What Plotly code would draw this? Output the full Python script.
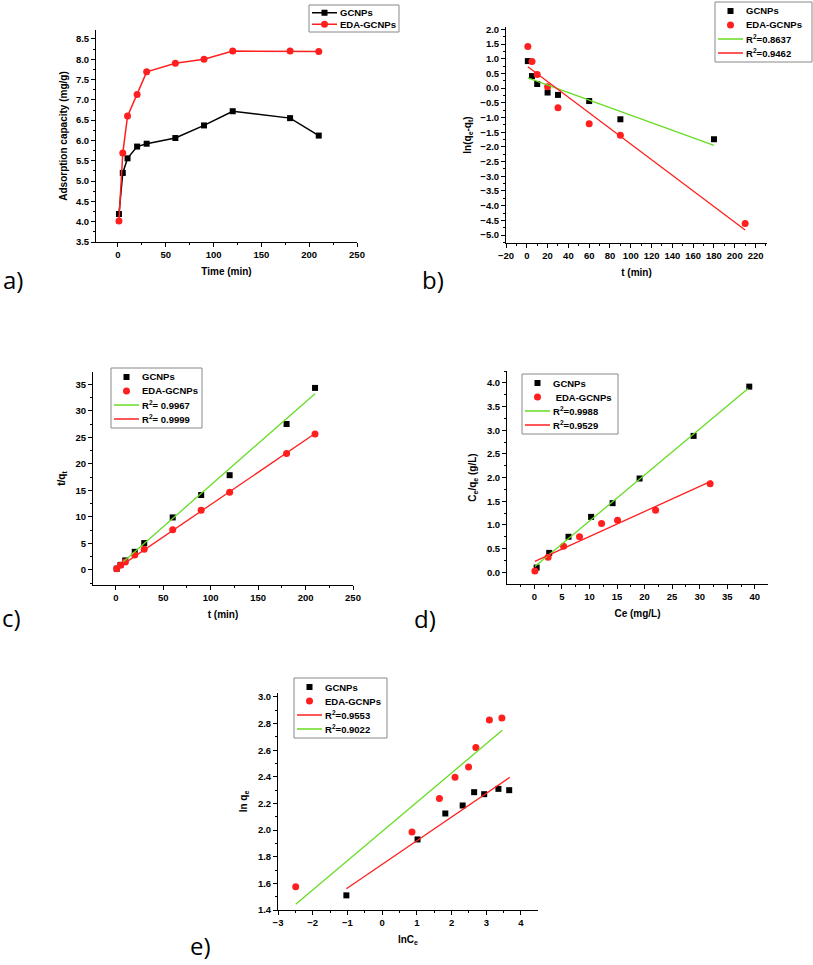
import plotly.graph_objects as go

W, H = 813, 965

# ---------------- data ----------------
# a) adsorption capacity vs time
t_a = [1, 5, 10, 20, 30, 60, 90, 120, 180, 210]
a_gcnp = [4.19, 5.20, 5.56, 5.85, 5.92, 6.06, 6.37, 6.72, 6.55, 6.12]
a_eda = [4.02, 5.69, 6.60, 7.13, 7.69, 7.90, 8.00, 8.20, 8.20, 8.19]

# b) pseudo-first-order
b_t_gcnp = [1, 5, 10, 20, 30, 60, 90, 180]
b_gcnp = [0.92, 0.41, 0.14, -0.15, -0.23, -0.44, -1.06, -1.74]
b_t_eda = [1, 5, 10, 20, 30, 60, 90, 210]
b_eda = [1.42, 0.91, 0.46, 0.05, -0.67, -1.21, -1.60, -4.61]
b_fit_gcnp_x = [1, 180]
b_fit_gcnp_y = [0.35, -1.95]
b_fit_eda_x = [1, 210]
b_fit_eda_y = [0.73, -4.83]

# c) pseudo-second-order
t_c = [1, 5, 10, 20, 30, 60, 90, 120, 180, 210]
c_gcnp = [0.24, 0.96, 1.80, 3.42, 5.07, 9.90, 14.13, 17.86, 27.50, 34.30]
c_eda = [0.25, 0.88, 1.52, 2.80, 3.90, 7.59, 11.25, 14.63, 21.95, 25.62]
c_fit_gcnp_x = [8, 210]
c_fit_gcnp_y = [1.57, 33.2]
c_fit_eda_x = [1, 210]
c_fit_eda_y = [0.25, 25.7]

# d) Langmuir
d_ce_gcnp = [0.42, 2.7, 6.2, 10.3, 14.2, 19.1, 28.9, 39.0]
d_gcnp = [0.10, 0.41, 0.75, 1.17, 1.46, 1.98, 2.88, 3.92]
d_ce_eda = [0.1, 2.5, 5.3, 8.2, 12.2, 15.1, 22.0, 31.9]
d_eda = [0.03, 0.32, 0.55, 0.75, 1.03, 1.10, 1.31, 1.87]
d_fit_gcnp_x = [0.1, 38.8]
d_fit_gcnp_y = [0.12, 3.88]
d_fit_eda_x = [0.1, 32.2]
d_fit_eda_y = [0.23, 1.93]

# e) Freundlich
e_lnce_gcnp = [-1.03, 1.02, 1.82, 2.32, 2.65, 2.94, 3.35, 3.66]
e_gcnp = [1.51, 1.93, 2.125, 2.185, 2.285, 2.27, 2.31, 2.30]
e_lnce_eda = [-2.49, 0.86, 1.65, 2.10, 2.49, 2.70, 3.09, 3.45]
e_eda = [1.575, 1.985, 2.238, 2.398, 2.475, 2.62, 2.828, 2.843]
e_fit_red_x = [-1.03, 3.68]
e_fit_red_y = [1.56, 2.3975]
e_fit_green_x = [-2.49, 3.46]
e_fit_green_y = [1.4425, 2.75]

names = ["GCNPs", "EDA-GCNPs"]
r2_b = ["R<sup>2</sup>=0.8637", "R<sup>2</sup>=0.9462"]
r2_c = ["R<sup>2</sup>= 0.9967", "R<sup>2</sup>= 0.9999"]
r2_d = ["R<sup>2</sup>=0.9988", "R<sup>2</sup>=0.9529"]
r2_e = ["R<sup>2</sup>=0.9553", "R<sup>2</sup>=0.9022"]

BLACK = "#000000"
RED = "#ff1f1f"
GREEN = "#66dd22"
FONT = "Liberation Sans"

fig = go.Figure()

def px_dom_x(a, b):
    return [a / W, b / W]

def px_dom_y(top, bottom):
    return [1 - bottom / H, 1 - top / H]

def sq():
    return dict(symbol="square", size=6, color=BLACK)

def circ():
    return dict(symbol="circle", size=7, color=RED)

def add(x, y, mode, name, ax, color=None, marker=None):
    kw = dict(x=x, y=y, mode=mode, name=name, xaxis="x" + ax, yaxis="y" + ax, showlegend=False)
    if marker is not None:
        kw["marker"] = marker
    if "lines" in mode:
        kw["line"] = dict(color=color, width=1.5 if "markers" in mode else 1.3)
    fig.add_trace(go.Scatter(**kw))

# ---- a ----
add(t_a, a_gcnp, "lines+markers", names[0], "", BLACK, sq())
add(t_a, a_eda, "lines+markers", names[1], "", RED, circ())
# ---- b ----
add(b_t_gcnp, b_gcnp, "markers", names[0], "2", marker=sq())
add(b_t_eda, b_eda, "markers", names[1], "2", marker=circ())
add(b_fit_gcnp_x, b_fit_gcnp_y, "lines", r2_b[0], "2", GREEN)
add(b_fit_eda_x, b_fit_eda_y, "lines", r2_b[1], "2", RED)
# ---- c ----
add(t_c, c_gcnp, "markers", names[0], "3", marker=sq())
add(t_c, c_eda, "markers", names[1], "3", marker=circ())
add(c_fit_gcnp_x, c_fit_gcnp_y, "lines", r2_c[0], "3", GREEN)
add(c_fit_eda_x, c_fit_eda_y, "lines", r2_c[1], "3", RED)
# ---- d ----
add(d_ce_gcnp, d_gcnp, "markers", names[0], "4", marker=sq())
add(d_ce_eda, d_eda, "markers", names[1], "4", marker=circ())
add(d_fit_gcnp_x, d_fit_gcnp_y, "lines", r2_d[0], "4", GREEN)
add(d_fit_eda_x, d_fit_eda_y, "lines", r2_d[1], "4", RED)
# ---- e ----
add(e_lnce_gcnp, e_gcnp, "markers", names[0], "5", marker=sq())
add(e_lnce_eda, e_eda, "markers", names[1], "5", marker=circ())
add(e_fit_red_x, e_fit_red_y, "lines", r2_e[0], "5", RED)
add(e_fit_green_x, e_fit_green_y, "lines", r2_e[1], "5", GREEN)

tickfont = dict(family=FONT, size=9.5, color=BLACK, weight="bold")
titlefont = dict(family=FONT, size=10, color=BLACK, weight="bold")

def axis(dom, rng, dtick, minor, title, anchor, standoff, tick0=0, fmt=None):
    d = dict(domain=dom, range=rng, dtick=dtick, tick0=tick0, anchor=anchor,
             automargin=False,
             showline=True, linecolor=BLACK, linewidth=1, mirror=False,
             ticks="outside", ticklen=4, tickwidth=1, tickcolor=BLACK,
             showgrid=False, zeroline=False, tickfont=tickfont,
             title=dict(text=title, font=titlefont, standoff=standoff),
             minor=dict(ticks="outside", ticklen=2, dtick=minor, tickcolor=BLACK, showgrid=False))
    if fmt:
        d["tickformat"] = fmt
    return d

lay = dict(width=W, height=H, margin=dict(l=0, r=0, t=0, b=0, autoexpand=False),
           paper_bgcolor="white", plot_bgcolor="white", showlegend=False)

# a
lay["xaxis"] = axis(px_dom_x(96, 357), [-23, 250], 50, 25, "Time (min)", "y", 8)
lay["yaxis"] = axis(px_dom_y(30, 242), [3.5, 8.72], 0.5, 0.25, "Adsorption capacity (mg/g)", "x", 6, 3.5, ".1f")
# b
lay["xaxis2"] = axis(px_dom_x(506, 767), [-20, 231], 20, 10, "t (min)", "y2", 8)
lay["yaxis2"] = axis(px_dom_y(27, 243), [-5.27, 2.08], 0.5, 0.25, "ln(q<sub>e</sub>-q<sub>t</sub>)", "x2", 6, 0, ".1f")
# c
lay["xaxis3"] = axis(px_dom_x(93, 353), [-24, 250], 50, 25, "t (min)", "y3", 8)
lay["yaxis3"] = axis(px_dom_y(372, 585), [-2.83, 37.3], 5, 2.5, "t/q<sub>t</sub>", "x3", 8)
# d
lay["xaxis4"] = axis(px_dom_x(507, 768), [-4.96, 42.4], 5, 2.5, "Ce (mg/L)", "y4", 8)
lay["yaxis4"] = axis(px_dom_y(371, 584), [-0.247, 4.25], 0.5, 0.25, "C<sub>e</sub>/q<sub>e</sub> (g/L)", "x4", 8, 0, ".1f")
# e
lay["xaxis5"] = axis(px_dom_x(278, 538), [-3.0, 4.49], 1, 0.5, "lnC<sub>e</sub>", "y5", 8)
lay["yaxis5"] = axis(px_dom_y(693, 910), [1.4, 3.03], 0.2, 0.1, "ln q<sub>e</sub>", "x5", 8, 1.4, ".1f")

# ---------- legends (drawn as layout shapes + text) ----------
legfont = dict(family=FONT, size=9.5, color=BLACK, weight="bold")
shapes = []
annotations = []

def X(px):
    return px / W

def Y(py):
    return 1 - py / H

def legend_box(left, top, right, bottom, items):
    shapes.append(dict(type="rect", xref="paper", yref="paper",
                       x0=X(left), x1=X(right), y0=Y(bottom), y1=Y(top),
                       line=dict(color="#888888", width=1), fillcolor="white", layer="above"))
    n = len(items)
    rh = (bottom - top - 4) / n
    for i, (kind, color, text) in enumerate(items):
        cy = top + 2 + rh * (i + 0.5)
        lx0, lx1 = left + 3, left + 28
        mx = (lx0 + lx1) / 2
        if "line" in kind:
            shapes.append(dict(type="line", xref="paper", yref="paper",
                               x0=X(lx0), x1=X(lx1), y0=Y(cy), y1=Y(cy),
                               line=dict(color=color, width=1.5), layer="above"))
        if "square" in kind:
            shapes.append(dict(type="rect", xref="paper", yref="paper",
                               x0=X(mx - 3), x1=X(mx + 3), y0=Y(cy + 3), y1=Y(cy - 3),
                               line=dict(width=0), fillcolor=color, layer="above"))
        if "circle" in kind:
            shapes.append(dict(type="circle", xref="paper", yref="paper",
                               x0=X(mx - 3.5), x1=X(mx + 3.5), y0=Y(cy + 3.5), y1=Y(cy - 3.5),
                               line=dict(width=0), fillcolor=color, layer="above"))
        annotations.append(dict(text=text, x=X(lx1 + 1), y=Y(cy), xref="paper", yref="paper",
                                xanchor="left", yanchor="middle", showarrow=False, font=legfont))

legend_box(309, 5, 399, 32, [("line+square", BLACK, names[0]), ("line+circle", RED, names[1])])
legend_box(715, 2, 812, 62, [("square", BLACK, names[0]), ("circle", RED, names[1]),
                             ("line", GREEN, r2_b[0]), ("line", RED, r2_b[1])])
legend_box(111, 368, 202, 428, [("square", BLACK, names[0]), ("circle", RED, names[1]),
                                ("line", GREEN, r2_c[0]), ("line", RED, r2_c[1])])
legend_box(522, 374, 618, 434, [("square", BLACK, names[0]), ("circle", RED, " " + names[1]),
                                ("line", GREEN, r2_d[0]), ("line", RED, r2_d[1])])
legend_box(294, 678, 387, 738, [("square", BLACK, names[0]), ("circle", RED, names[1]),
                                ("line", RED, r2_e[0]), ("line", GREEN, r2_e[1])])

labfont = dict(family="Open Sans", size=24, color=BLACK)
panel_labels = [("a)", 1, 280), ("b)", 420, 279), ("c)", 0, 617), ("d)", 412, 618), ("e)", 188, 945)]
for t, x, y in panel_labels:
    annotations.append(dict(text=t, x=X(x), y=Y(y), xref="paper", yref="paper",
                            xanchor="left", yanchor="middle", showarrow=False, font=labfont))

lay["shapes"] = shapes
lay["annotations"] = annotations

fig.update_layout(**lay)
fig.write_html("out.html", config={"displayModeBar": False},
               post_script="document.body.style.margin='0';document.body.style.overflow='hidden';")
